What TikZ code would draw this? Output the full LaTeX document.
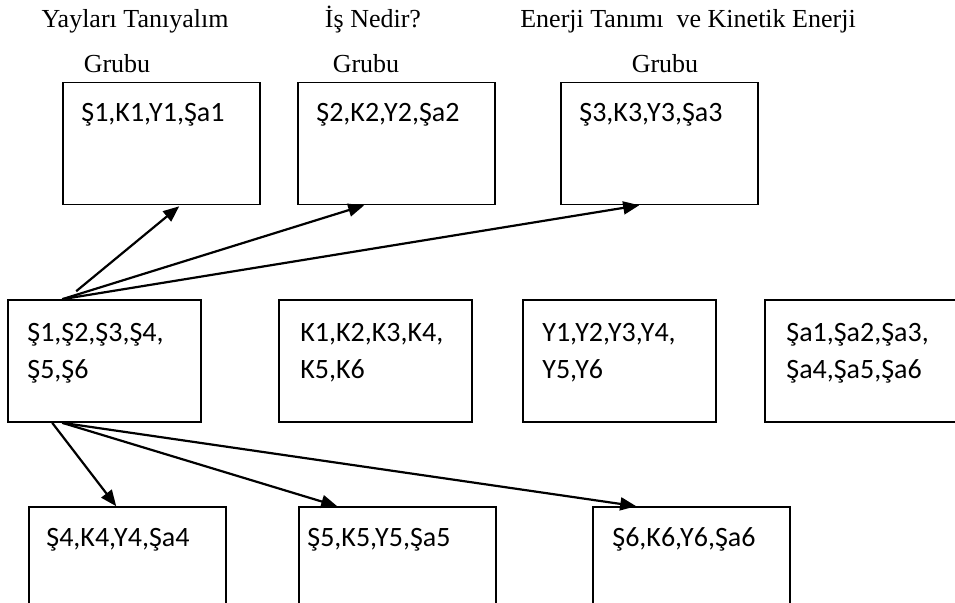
\documentclass[tikz,border=0pt]{standalone}
\usepackage{fontspec}
\setmainfont{Liberation Serif}
\newfontfamily\calibri{Carlito}
\usetikzlibrary{arrows.meta,positioning}

\begin{document}
\begin{tikzpicture}
  [
  x=1pt,y=-1pt,
  box/.style={rectangle,draw=black,line width=1.6pt,inner sep=0pt,minimum width=197pt,minimum height=122pt},
  title/.style={anchor=base,inner sep=0pt,font=\fontsize{26}{30}\selectfont},
  content/.style={anchor=base west,inner sep=0pt,text width=185pt,align=left,font=\calibri\fontsize{28}{37}\selectfont},
  arr/.style={-{Triangle[length=16pt,width=13pt]},line width=2.2pt}
  ]
  \clip (0,0) rectangle (955,602);
  % group titles
  \node[title] (title1) at (135,28) {Yayları Tanıyalım};
  \node[title] (title2) at (373,28) {İş Nedir?};
  \node[title] (title3) at (688,28) {Enerji Tanımı~ ve Kinetik Enerji};
  \node[title] (grubu1) at (117,73) {Grubu};
  \node[title] (grubu2) at (366,73) {Grubu};
  \node[title] (grubu3) at (665,73) {Grubu};
  % top row
  \node[box] (g1) at (161.5,143.5) {};
  \node[box] (g2) at (396.5,143.5) {};
  \node[box] (g3) at (659.5,143.5) {};
  \node[content] (g1 text) at ([xshift=19pt,yshift=-40pt]g1.north west) {Ş1,K1,Y1,Şa1};
  \node[content] (g2 text) at ([xshift=19pt,yshift=-40pt]g2.north west) {Ş2,K2,Y2,Şa2};
  \node[content] (g3 text) at ([xshift=19pt,yshift=-40pt]g3.north west) {Ş3,K3,Y3,Şa3};
  % middle row
  \node[box,minimum width=193pt] (s) at (104.5,361) {};
  \node[box,minimum width=193pt] (k) at (375.5,361) {};
  \node[box,minimum width=193pt] (y) at (619.5,361) {};
  \node[box,minimum width=193pt] (sa) at (861.5,361) {};
  \node[content] (s text) at ([xshift=20pt,yshift=-42pt]s.north west) {Ş1,Ş2,Ş3,Ş4,\\Ş5,Ş6};
  \node[content] (k text) at ([xshift=22pt,yshift=-42pt]k.north west) {K1,K2,K3,K4,\\K5,K6};
  \node[content] (y text) at ([xshift=20pt,yshift=-42pt]y.north west) {Y1,Y2,Y3,Y4,\\Y5,Y6};
  \node[content] (sa text) at ([xshift=22pt,yshift=-42pt]sa.north west) {Şa1,Şa2,Şa3,\\Şa4,Şa5,Şa6};
  % bottom row
  \node[box] (g4) at (127.5,568) {};
  \node[box] (g5) at (397.5,568) {};
  \node[box] (g6) at (691.5,568) {};
  \node[content] (g4 text) at ([xshift=18pt,yshift=-40pt]g4.north west) {Ş4,K4,Y4,Şa4};
  \node[content] (g5 text) at ([xshift=9pt,yshift=-40pt]g5.north west) {Ş5,K5,Y5,Şa5};
  \node[content] (g6 text) at ([xshift=20pt,yshift=-40pt]g6.north west) {Ş6,K6,Y6,Şa6};
  % arrows
  \draw[arr] ([xshift=69pt,yshift=8pt]s.north west) -- ([xshift=117pt,yshift=-1pt]g1.south west);
  \draw[arr] ([xshift=55pt]s.north west) -- ([xshift=67pt]g2.south west);
  \draw[arr] ([xshift=55pt]s.north west) -- ([xshift=79pt]g3.south west);
  \draw[arr] ([xshift=45pt]s.south west) -- ([xshift=88pt]g4.north west);
  \draw[arr] ([xshift=55pt]s.south west) -- ([xshift=39pt]g5.north west);
  \draw[arr] ([xshift=55pt]s.south west) -- ([xshift=44pt]g6.north west);
\end{tikzpicture}
\end{document}
